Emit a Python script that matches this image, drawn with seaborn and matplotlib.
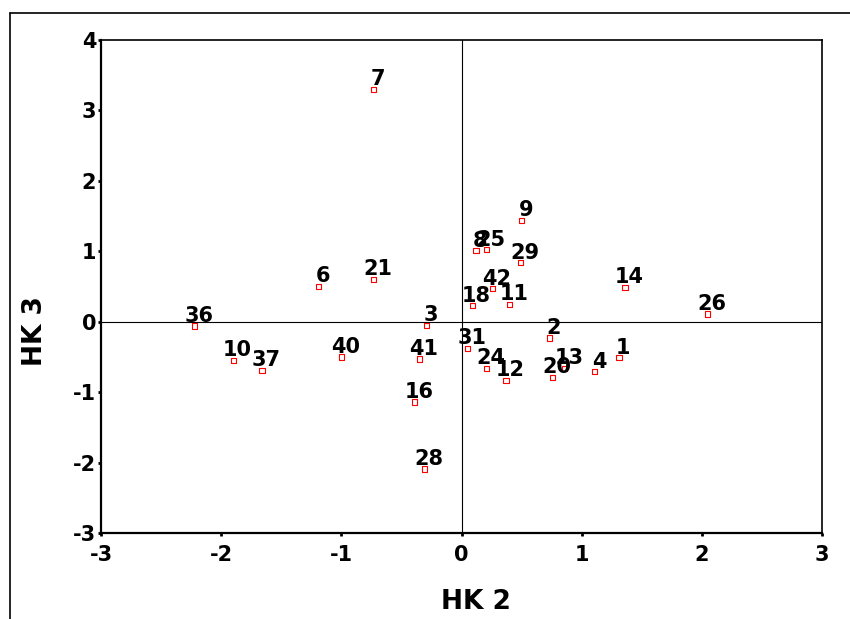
import pandas as pd
import matplotlib
matplotlib.use('Agg')
import matplotlib.pyplot as plt
import seaborn as sns

# case labels and their scores on components 2 and 3
labels = ['7', '9', '8', '25', '29', '42', '18', '11', '6', '21', '36', '3',
          '10', '37', '40', '41', '31', '24', '12', '2', '20', '13', '4', '1',
          '14', '26', '16', '28']
hk2 = [-0.73, 0.50, 0.12, 0.21, 0.49, 0.26, 0.09, 0.40, -1.19, -0.73, -2.22, -0.29,
       -1.90, -1.66, -1.00, -0.35, 0.05, 0.21, 0.37, 0.73, 0.76, 0.86, 1.11, 1.31,
       1.36, 2.05, -0.39, -0.31]
hk3 = [3.30, 1.44, 1.01, 1.02, 0.84, 0.47, 0.23, 0.25, 0.50, 0.60, -0.06, -0.05,
       -0.55, -0.69, -0.50, -0.53, -0.38, -0.66, -0.83, -0.23, -0.79, -0.66, -0.71, -0.51,
       0.49, 0.11, -1.14, -2.09]

df = pd.DataFrame({'label': labels, 'HK 2': hk2, 'HK 3': hk3})

sns.set_style('white')
plt.rcParams['font.family'] = ['DejaVu Sans']
plt.rcParams['axes.unicode_minus'] = False
plt.rcParams['text.color'] = 'black'
plt.rcParams['axes.labelcolor'] = 'black'
plt.rcParams['xtick.color'] = 'black'
plt.rcParams['ytick.color'] = 'black'

fig = plt.figure(figsize=(8.5, 6.19), dpi=100)
ax = fig.add_axes([101 / 850, 1 - 533 / 619, 721 / 850, 493 / 619])

# outer frame (only top and left edges visible)
fig.add_artist(plt.Line2D([10 / 850, 10 / 850], [0, 1 - 13 / 619], color='black',
                          lw=1.2, transform=fig.transFigure))
fig.add_artist(plt.Line2D([10 / 850, 1], [1 - 13 / 619, 1 - 13 / 619], color='black',
                          lw=1.2, transform=fig.transFigure))

ax.axhline(0, color='black', lw=0.8, zorder=1)
ax.axvline(0, color='black', lw=0.8, zorder=1)

sns.scatterplot(data=df, x='HK 2', y='HK 3', ax=ax, marker='s', s=14,
                facecolor='none', edgecolor='red', linewidth=0.8, zorder=3)

for _, row in df.iterrows():
    ax.annotate(row['label'], (row['HK 2'], row['HK 3']), xytext=(3, 0),
                textcoords='offset points', ha='center', va='bottom',
                fontsize=15, fontweight='bold', color='black', zorder=4)

ax.set_xlim(-3, 3)
ax.set_ylim(-3, 4)
ax.set_xticks(range(-3, 4))
ax.set_yticks(range(-3, 5))

for side in ['left', 'bottom']:
    ax.spines[side].set_linewidth(1.6)
for side in ['top', 'right']:
    ax.spines[side].set_linewidth(1.2)
for s in ax.spines.values():
    s.set_color('black')

ax.tick_params(axis='x', direction='out', length=2.5, width=2, pad=6,
               labelsize=15, bottom=True)
ax.tick_params(axis='y', direction='out', length=2.5, width=2, pad=1,
               labelsize=15, left=True)
for t in ax.get_xticklabels() + ax.get_yticklabels():
    t.set_fontweight('bold')

ax.set_xlabel('HK 2', fontsize=19, fontweight='bold')
ax.set_ylabel('HK 3', fontsize=19, fontweight='bold')
ax.xaxis.set_label_coords(0.52, -0.113)
ax.yaxis.set_label_coords(-0.073, 0.41)

plt.savefig('out.png', dpi=100)
